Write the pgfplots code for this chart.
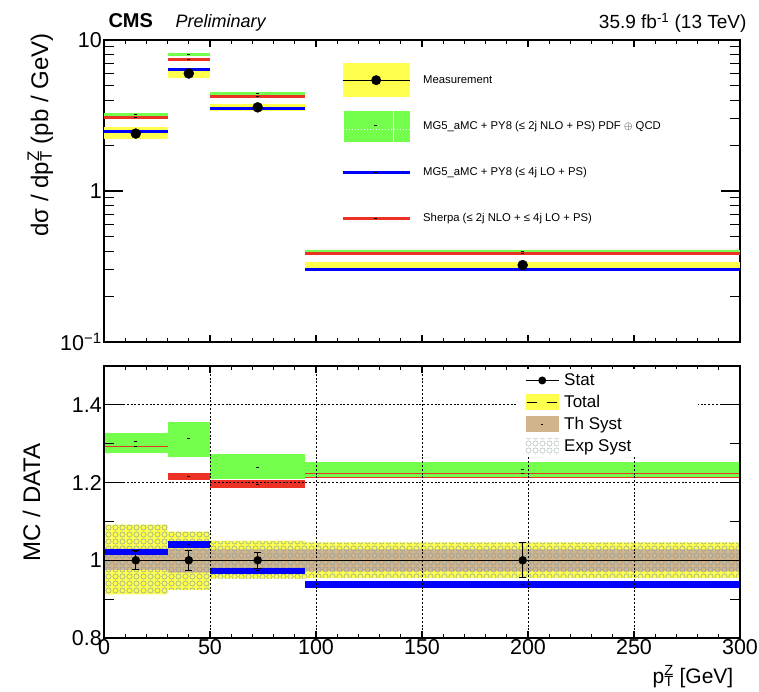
\documentclass[border=0pt]{standalone}
\usepackage{pgfplots}
\pgfplotsset{compat=1.18}
\usepackage{fontspec}
\setmainfont{Liberation Sans}
\usetikzlibrary{patterns}

\definecolor{myyellow}{RGB}{255,255,77}
\definecolor{mygreen}{RGB}{116,255,77}
\definecolor{myred}{RGB}{236,50,36}
\definecolor{myblue}{RGB}{0,0,255}
\definecolor{mytan}{RGB}{210,180,140}
\definecolor{hatchcol}{RGB}{135,160,160}

\pgfdeclarepatternformonly{xdots}{\pgfqpoint{-1pt}{-1pt}}{\pgfqpoint{8pt}{8pt}}{\pgfqpoint{7pt}{7pt}}{%
  \pgfsetlinewidth{0.5pt}%
  \pgfpathcircle{\pgfqpoint{3.5pt}{3.5pt}}{2.6pt}%
  \pgfusepath{stroke}}

\pgfplotsset{
  every axis/.append style={
    scale only axis, width=636pt, xmin=0, xmax=300,
    axis line style={line width=2pt},
    tick align=inside, tick pos=both,
    tick label style={font=\fontsize{21.5}{26}\selectfont},
    /pgf/number format/assume math mode=true,
    xtick={0,50,...,300}, minor x tick num=4,
    xtick style={black, line width=1.1pt, /pgfplots/major tick length=7pt, /pgfplots/minor tick length=4pt},
    ytick style={black, line width=1.1pt, /pgfplots/major tick length=19pt, /pgfplots/minor tick length=10pt},
    yticklabel style={inner sep=2pt},
    xticklabel style={inner sep=1.5pt},
  }
}

\begin{document}
\begin{tikzpicture}
\useasboundingbox (0,0) rectangle (759pt,692pt);

% ---------------- top panel ----------------
\begin{axis}[
  at={(104pt,350pt)}, anchor=south west, height=302pt,
  ymode=log, ymin=0.1, ymax=10,
  ytick={0.1,1,10}, yticklabels={10\textsuperscript{−1},1,10},
  minor ytick={0.2,0.3,0.4,0.5,0.6,0.7,0.8,0.9,2,3,4,5,6,7,8,9},
  xticklabels={},
  ylabel={dσ / dp\rlap{\textsuperscript{Z}}\textsubscript{T} (pb / GeV)},
  y label style={at={(rel axis cs:-0.088,1.033)}, anchor=base east, font=\fontsize{24}{28}\selectfont},
  legend style={at={(rel axis cs:0.3726,0.9437)}, anchor=north west, draw=none, fill=none,
    inner sep=0pt, row sep=0pt, column sep=12pt, font=\fontsize{11.3}{13}\selectfont,
    nodes={inner sep=0pt}},
  legend cell align=left,
  clip=false,
]
% total uncertainty of the measurement
\addplot[forget plot, fill=myyellow, draw=none] coordinates {(0,2.21) (30,2.21) (30,2.64) (0,2.64)} --cycle;
\addplot[forget plot, fill=myyellow, draw=none] coordinates {(30,5.60) (50,5.60) (50,6.55) (30,6.55)} --cycle;
\addplot[forget plot, fill=myyellow, draw=none] coordinates {(50,3.41) (95,3.41) (95,3.76) (50,3.76)} --cycle;
\addplot[forget plot, fill=myyellow, draw=none] coordinates {(95,0.308) (300,0.308) (300,0.338) (95,0.338)} --cycle;
% predictions
\addplot[forget plot, jump mark left, mygreen, line width=3pt] coordinates {(0,3.20) (30,8.05) (50,4.42) (95,0.400) (300,0.400)};
\addplot[forget plot, jump mark left, myred, line width=3pt] coordinates {(0,3.07) (30,7.40) (50,4.23) (95,0.387) (300,0.387)};
\addplot[forget plot, jump mark left, myblue, line width=3pt] coordinates {(0,2.48) (30,6.35) (50,3.50) (95,0.300) (300,0.300)};
\addplot[forget plot, only marks, mark=-, mark size=1.5pt, black, line width=1pt] coordinates {(15,3.20) (40,8.05) (72.5,4.42) (197.5,0.400) (15,3.07) (40,7.40) (72.5,4.23) (197.5,0.387) (15,2.48) (40,6.35) (72.5,3.50) (197.5,0.300)};
% measurement
\addplot[forget plot, only marks, mark=*, mark size=5pt, black] coordinates {(15,2.40) (40,6.00) (72.5,3.58) (197.5,0.323)};

\addlegendimage{black, legend image code/.code={
  \path[draw=none,fill=none] (0pt,-23pt) rectangle (67pt,23pt);
  \fill[myyellow,draw=none] (0pt,-17pt) rectangle (67pt,17pt);
  \draw[black,line width=1pt] (0pt,0pt) -- (67pt,0pt);
  \fill[black,draw=none] (33.5pt,0pt) circle (5pt);}}
\addlegendentry{Measurement}
\addlegendimage{black, legend image code/.code={
  \path[draw=none,fill=none] (0pt,-23pt) rectangle (67pt,23pt);
  \fill[mygreen,draw=none] (1pt,-15.5pt) rectangle (67pt,15.5pt);
  \draw[white,line width=0.8pt,dash pattern=on 1.5pt off 1.5pt] (0pt,-3pt) -- (67pt,-3pt);
  \draw[white,line width=1pt] (51pt,-15.5pt) -- (51pt,15.5pt);
  \draw[black,line width=1pt] (31.5pt,0.5pt) -- (34.5pt,0.5pt);}}
\addlegendentry{MG5\_aMC + PY8 (≤ 2j NLO + PS) PDF $\oplus$ QCD}
\addlegendimage{black, legend image code/.code={
  \path[draw=none,fill=none] (0pt,-23pt) rectangle (67pt,23pt);
  \draw[myblue,line width=3pt] (0pt,0pt) -- (67pt,0pt);
  \draw[black,line width=1pt] (31.5pt,0pt) -- (34.5pt,0pt);}}
\addlegendentry{MG5\_aMC + PY8 (≤ 4j LO + PS)}
\addlegendimage{black, legend image code/.code={
  \path[draw=none,fill=none] (0pt,-23pt) rectangle (67pt,23pt);
  \draw[myred,line width=3pt] (0pt,0pt) -- (67pt,0pt);
  \draw[black,line width=1pt] (31.5pt,0pt) -- (34.5pt,0pt);}}
\addlegendentry{Sherpa (≤ 2j NLO + ≤ 4j LO + PS)}

\node[anchor=base west, font=\fontsize{20}{24}\selectfont\bfseries] at (rel axis cs:0.0016,1.0397) {CMS};
\node[anchor=base west, font=\fontsize{18}{22}\selectfont\itshape] at (rel axis cs:0.107,1.0397) {Preliminary};
\node[anchor=base east, font=\fontsize{19}{22}\selectfont] at (rel axis cs:1.0157,1.0364) {35.9 fb\textsuperscript{-1} (13 TeV)};
\end{axis}

% ---------------- bottom panel ----------------
\begin{axis}[
  at={(104pt,54pt)}, anchor=south west, height=272pt,
  ymin=0.8, ymax=1.5,
  ytick={0.8,1,1.2,1.4}, yticklabels={0.8,1,1.2,1.4},
  minor ytick={0.9,1.1,1.3,1.5},
  xticklabels={0,50,100,150,200,250,300},
  xmajorgrids, ymajorgrids,
  grid style={black, line width=0.9pt, dash pattern=on 2pt off 1.8pt},
  axis on top,
  xlabel={p\rlap{\textsuperscript{Z}}\textsubscript{T} [GeV]},
  x label style={at={(rel axis cs:0.995,-0.166)}, anchor=base east, font=\fontsize{21}{26}\selectfont},
  ylabel={MC / DATA},
  y label style={at={(rel axis cs:-0.1006,0.728)}, anchor=base east, font=\fontsize{24}{28}\selectfont},
  legend style={at={(rel axis cs:0.651,0.988)}, anchor=north west, fill=white, draw=none,
    inner xsep=7pt, inner ysep=0pt, row sep=0pt, column sep=5pt,
    font=\fontsize{17}{20}\selectfont, nodes={inner sep=0pt}},
  legend cell align=left,
]
% total uncertainty
\addplot[forget plot, fill=myyellow, draw=none] coordinates {(0,1.092) (30,1.092) (30,1.074) (50,1.074) (50,1.050) (95,1.050) (95,1.046) (300,1.046) (300,0.955) (95,0.955) (95,0.953) (50,0.953) (50,0.924) (30,0.924) (30,0.912) (0,0.912)} --cycle;
% theory systematic
\addplot[forget plot, fill=mytan, draw=none] coordinates {(0,1.030) (30,1.030) (30,1.030) (50,1.030) (50,1.028) (95,1.028) (95,1.028) (300,1.028) (300,0.972) (95,0.972) (95,0.978) (50,0.978) (50,0.968) (30,0.968) (30,0.975) (0,0.975)} --cycle;
% experimental systematic
\addplot[forget plot, pattern=xdots, pattern color=hatchcol, draw=none] coordinates {(0,1.092) (30,1.092) (30,1.074) (50,1.074) (50,1.050) (95,1.050) (95,1.046) (300,1.046) (300,0.955) (95,0.955) (95,0.953) (50,0.953) (50,0.924) (30,0.924) (30,0.912) (0,0.912)} --cycle;
% Sherpa band
\addplot[forget plot, fill=myred, draw=none] coordinates {(0,1.282) (30,1.282) (30,1.302) (0,1.302)} --cycle;
\addplot[forget plot, fill=myred, draw=none] coordinates {(30,1.206) (50,1.206) (50,1.225) (30,1.225)} --cycle;
\addplot[forget plot, fill=myred, draw=none] coordinates {(50,1.186) (95,1.186) (95,1.206) (50,1.206)} --cycle;
\addplot[forget plot, fill=myred, draw=none] coordinates {(95,1.213) (300,1.213) (300,1.233) (95,1.233)} --cycle;
% MG5 NLO band
\addplot[forget plot, fill=mygreen, draw=none] coordinates {(0,1.275) (30,1.275) (30,1.327) (0,1.327)} --cycle;
\addplot[forget plot, fill=mygreen, draw=none] coordinates {(30,1.266) (50,1.266) (50,1.356) (30,1.356)} --cycle;
\addplot[forget plot, fill=mygreen, draw=none] coordinates {(50,1.208) (95,1.208) (95,1.273) (50,1.273)} --cycle;
\addplot[forget plot, fill=mygreen, draw=none] coordinates {(95,1.215) (300,1.215) (300,1.253) (95,1.253)} --cycle;
\addplot[forget plot, jump mark left, myred, line width=1.2pt] coordinates {(0,1.292) (30,1.215) (50,1.196) (95,1.223) (300,1.223)};
% MG5 LO band
\addplot[forget plot, fill=myblue, draw=none] coordinates {(0,1.014) (30,1.014) (30,1.030) (0,1.030)} --cycle;
\addplot[forget plot, fill=myblue, draw=none] coordinates {(30,1.031) (50,1.031) (50,1.050) (30,1.050)} --cycle;
\addplot[forget plot, fill=myblue, draw=none] coordinates {(50,0.965) (95,0.965) (95,0.981) (50,0.981)} --cycle;
\addplot[forget plot, fill=myblue, draw=none] coordinates {(95,0.929) (300,0.929) (300,0.946) (95,0.946)} --cycle;
\addplot[forget plot, only marks, mark=-, mark size=1.5pt, black, line width=1pt] coordinates {(15,1.305) (40,1.313) (72.5,1.240) (197.5,1.234) (15,1.292) (40,1.215) (72.5,1.196) (197.5,1.223) (15,1.022) (40,1.040) (72.5,0.973) (197.5,0.937)};
% data
\addplot[forget plot, black, line width=0.8pt] coordinates {(0,1) (300,1)};
\addplot[forget plot, only marks, mark=*, mark size=4pt, black,
  error bars/.cd, y dir=both, y explicit,
  error bar style={line width=1pt}, error mark options={rotate=90, mark size=3.5pt, line width=1pt}]
  coordinates {(15,1) +- (0,0.025) (40,1) +- (0,0.026) (72.5,1) +- (0,0.020) (197.5,1) +- (0,0.045)};

\addlegendimage{black, legend image code/.code={
  \path[draw=none,fill=none] (0pt,-11pt) rectangle (33pt,11pt);
  \draw[black,line width=1pt] (0pt,0pt) -- (33pt,0pt);
  \fill[black,draw=none] (16.5pt,0pt) circle (4pt);}}
\addlegendentry{\makebox[127pt][l]{Stat}}
\addlegendimage{black, legend image code/.code={
  \path[draw=none,fill=none] (0pt,-11pt) rectangle (33pt,11pt);
  \fill[myyellow,draw=none] (0pt,-8pt) rectangle (33pt,8pt);
  \draw[black,line width=1pt,dash pattern=on 10pt off 10pt] (1pt,0pt) -- (33pt,0pt);}}
\addlegendentry{Total}
\addlegendimage{black, legend image code/.code={
  \path[draw=none,fill=none] (0pt,-11pt) rectangle (33pt,11pt);
  \fill[mytan,draw=none] (0pt,-8pt) rectangle (33pt,8pt);
  \draw[black,line width=1pt] (15.5pt,0pt) -- (17.5pt,0pt);}}
\addlegendentry{Th Syst}
\addlegendimage{black, legend image code/.code={
  \path[draw=none,fill=none] (0pt,-11pt) rectangle (33pt,11pt);
  \path[draw=none, pattern=xdots, pattern color=hatchcol!70] (0pt,-8pt) rectangle (33pt,8pt);}}
\addlegendentry{Exp Syst}
\end{axis}
\end{tikzpicture}
\end{document}
